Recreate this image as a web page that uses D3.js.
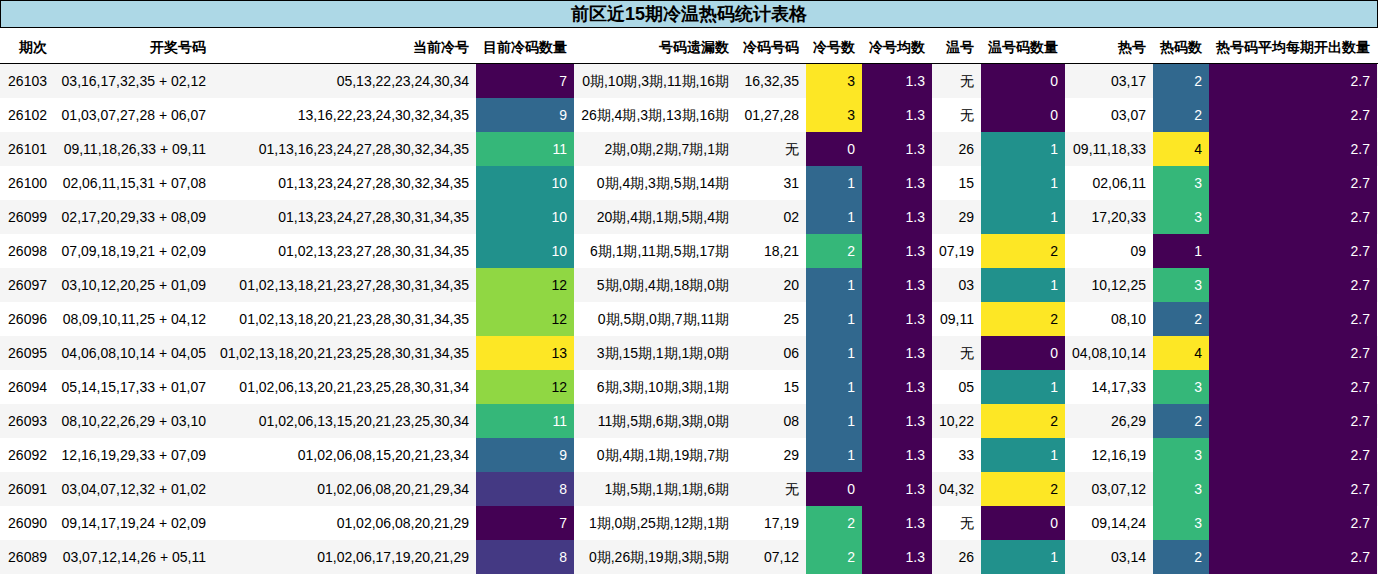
<!DOCTYPE html>
<html><head><meta charset="utf-8">
<script src="https://cdn.jsdelivr.net/npm/d3@7"></script>
<style>body{margin:0;background:#fff;font-family:"Liberation Sans",Arial,sans-serif;}</style>
</head><body>
<div class="chart"></div>
<script>
const title = "前区近15期冷温热码统计表格";
const headers = ["期次","开奖号码","当前冷号","目前冷码数量","号码遗漏数","冷码号码","冷号数","冷号均数","温号","温号码数量","热号","热码数","热号码平均每期开出数量"];
const issues = ["26103","26102","26101","26100","26099","26098","26097","26096","26095","26094","26093","26092","26091","26090","26089"];
const draws = ["03,16,17,32,35 + 02,12","01,03,07,27,28 + 06,07","09,11,18,26,33 + 09,11","02,06,11,15,31 + 07,08","02,17,20,29,33 + 08,09","07,09,18,19,21 + 02,09","03,10,12,20,25 + 01,09","08,09,10,11,25 + 04,12","04,06,08,10,14 + 04,05","05,14,15,17,33 + 01,07","08,10,22,26,29 + 03,10","12,16,19,29,33 + 07,09","03,04,07,12,32 + 01,02","09,14,17,19,24 + 02,09","03,07,12,14,26 + 05,11"];
const coldNow = ["05,13,22,23,24,30,34","13,16,22,23,24,30,32,34,35","01,13,16,23,24,27,28,30,32,34,35","01,13,23,24,27,28,30,32,34,35","01,13,23,24,27,28,30,31,34,35","01,02,13,23,27,28,30,31,34,35","01,02,13,18,21,23,27,28,30,31,34,35","01,02,13,18,20,21,23,28,30,31,34,35","01,02,13,18,20,21,23,25,28,30,31,34,35","01,02,06,13,20,21,23,25,28,30,31,34","01,02,06,13,15,20,21,23,25,30,34","01,02,06,08,15,20,21,23,34","01,02,06,08,20,21,29,34","01,02,06,08,20,21,29","01,02,06,17,19,20,21,29"];
const coldCount = [7,9,11,10,10,10,12,12,13,12,11,9,8,7,8];
const miss = ["0期,10期,3期,11期,16期","26期,4期,3期,13期,16期","2期,0期,2期,7期,1期","0期,4期,3期,5期,14期","20期,4期,1期,5期,4期","6期,1期,11期,5期,17期","5期,0期,4期,18期,0期","0期,5期,0期,7期,11期","3期,15期,1期,1期,0期","6期,3期,10期,3期,1期","11期,5期,6期,3期,0期","0期,4期,1期,19期,7期","1期,5期,1期,1期,6期","1期,0期,25期,12期,1期","0期,26期,19期,3期,5期"];
const coldNums = ["16,32,35","01,27,28","无","31","02","18,21","20","25","06","15","08","29","无","17,19","07,12"];
const coldN = [3,3,0,1,1,2,1,1,1,1,1,1,0,2,2];
const coldAvg = Array(15).fill(1.3);
const warmNums = ["无","无","26","15","29","07,19","03","09,11","无","05","10,22","33","04,32","无","26"];
const warmN = [0,0,1,1,1,2,1,2,0,1,2,1,2,0,1];
const hotNums = ["03,17","03,07","09,11,18,33","02,06,11","17,20,33","09","10,12,25","08,10","04,08,10,14","14,17,33","26,29","12,16,19","03,07,12","09,14,24","03,14"];
const hotN = [2,2,4,3,3,1,3,2,4,3,2,3,3,3,2];
const hotAvg = Array(15).fill(2.7);

const W = 1378, H = 575, titleH = 28, headH = 36, rowH = 34;
const edges = [0,54,213,476,574,736,806,862,932,981,1065,1153,1209,1377];
const cols = [issues,draws,coldNow,coldCount,miss,coldNums,coldN,coldAvg,warmNums,warmN,hotNums,hotN,hotAvg];
const colored = {3:coldCount,6:coldN,7:coldAvg,9:warmN,11:hotN,12:hotAvg};
const fmt = (c,v) => (c===7||c===12) ? d3.format(".1f")(v) : v;

const svg = d3.select(".chart").append("svg").attr("width", W).attr("height", H)
  .style("font-family", '"Liberation Sans",Arial,sans-serif');

svg.append("rect").attr("x",0.5).attr("y",0.5).attr("width",W-1).attr("height",titleH-1)
  .attr("fill","#add8e6").attr("stroke","#000");
svg.append("text").attr("x",W/2).attr("y",titleH/2+6).attr("text-anchor","middle")
  .attr("font-size",18).attr("font-weight","bold").text(title);

const y = d3.scaleBand().domain(d3.range(15)).range([titleH+headH, titleH+headH+15*rowH]);

svg.selectAll("text.h").data(headers).join("text").attr("class","h")
  .attr("x",(d,i)=>edges[i+1]-7).attr("y",titleH+headH/2+6).attr("text-anchor","end")
  .attr("font-size",14).attr("font-weight","bold").text(d=>d);
svg.append("line").attr("x1",0).attr("x2",W).attr("y1",titleH+headH-0.5).attr("y2",titleH+headH-0.5)
  .attr("stroke","#000");

const rows = svg.selectAll("g.row").data(d3.range(15)).join("g").attr("class","row")
  .attr("transform",r=>`translate(0,${y(r)})`);
rows.append("rect").attr("width",W).attr("height",rowH).attr("fill",r=>r%2===0?"#f5f5f5":"#fff");

cols.forEach((arr,c)=>{
  let color = null;
  if (colored[c]) {
    const ext = d3.extent(arr);
    const s = d3.scaleSequential(d3.interpolateViridis).domain(ext[0]===ext[1]?[ext[0],ext[0]+1]:ext);
    color = v => s(v);
  }
  rows.each(function(r){
    const g = d3.select(this), v = arr[r];
    let txt = "#000";
    if (color) {
      const f = color(v);
      g.append("rect").attr("x",edges[c]).attr("width",edges[c+1]-edges[c]).attr("height",rowH).attr("fill",f);
      txt = d3.hsl(f).l > 0.55 ? "#000" : "#fff";
    }
    g.append("text").attr("x",edges[c+1]-7).attr("y",rowH/2+5).attr("text-anchor","end")
      .attr("font-size",14).attr("fill",txt).text(fmt(c,v));
  });
});
</script>
</body></html>
